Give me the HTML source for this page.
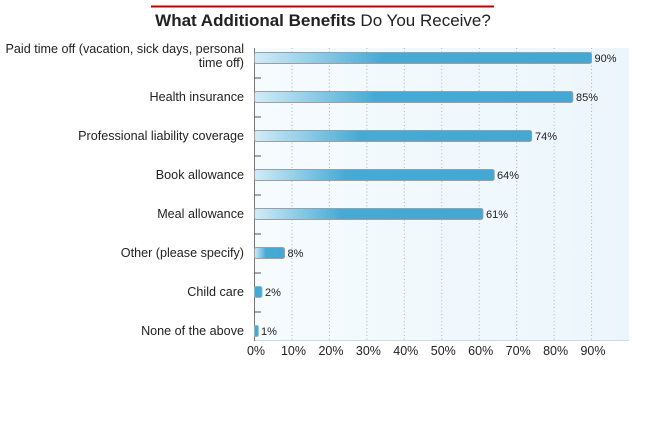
<!DOCTYPE html>
<html><head><meta charset="utf-8"><style>
html,body{margin:0;padding:0;background:#fff;}
svg{display:block;font-family:"Liberation Sans",sans-serif;}
</style></head><body>
<svg width="645" height="439" viewBox="0 0 645 439" xmlns="http://www.w3.org/2000/svg">
<defs>
<linearGradient id="bg" x1="0" y1="0" x2="1" y2="0">
<stop offset="0" stop-color="#f6fbfe"/><stop offset="1" stop-color="#ebf6fc"/>
</linearGradient>
<linearGradient id="bar" x1="0" y1="0" x2="1" y2="0">
<stop offset="0" stop-color="#d2ecf7"/><stop offset="0.38" stop-color="#46aad6"/><stop offset="1" stop-color="#44a8d5"/>
</linearGradient>
</defs>
<rect x="151" y="5.5" width="343" height="2" fill="#c00000"/>
<text x="323" y="26" text-anchor="middle" font-size="17" fill="#222"><tspan font-weight="bold">What Additional Benefits</tspan> Do You Receive?</text>

<rect x="254" y="48" width="375" height="292" fill="url(#bg)"/>
<g stroke="#aab4ba" stroke-width="1" stroke-dasharray="1,2.5">
<line x1="291.95" y1="48" x2="291.95" y2="340"/>
<line x1="329.4" y1="48" x2="329.4" y2="340"/>
<line x1="366.85" y1="48" x2="366.85" y2="340"/>
<line x1="404.3" y1="48" x2="404.3" y2="340"/>
<line x1="441.75" y1="48" x2="441.75" y2="340"/>
<line x1="479.2" y1="48" x2="479.2" y2="340"/>
<line x1="516.65" y1="48" x2="516.65" y2="340"/>
<line x1="554.1" y1="48" x2="554.1" y2="340"/>
<line x1="591.55" y1="48" x2="591.55" y2="340"/>
</g>
<line x1="254" y1="340.5" x2="629" y2="340.5" stroke="#c9dce6" stroke-width="1"/>
<line x1="254.5" y1="48" x2="254.5" y2="341" stroke="#777" stroke-width="1"/>
<g stroke="#555" stroke-width="1">
<line x1="254" y1="78" x2="261" y2="78"/>
<line x1="254" y1="117" x2="261" y2="117"/>
<line x1="254" y1="156" x2="261" y2="156"/>
<line x1="254" y1="195" x2="261" y2="195"/>
<line x1="254" y1="234" x2="261" y2="234"/>
<line x1="254" y1="273" x2="261" y2="273"/>
<line x1="254" y1="312" x2="261" y2="312"/>
</g>

<g stroke="#9a9fa3" stroke-width="1" fill="url(#bar)">
<rect x="254.5" y="52.5" width="337" height="11" rx="2"/>
<rect x="254.5" y="91.5" width="318.3" height="11" rx="2"/>
<rect x="254.5" y="130.5" width="277.1" height="11" rx="2"/>
<rect x="254.5" y="169.5" width="239.7" height="11" rx="2"/>
<rect x="254.5" y="208.5" width="228.4" height="11" rx="2"/>
<rect x="254.5" y="247.5" width="30" height="11" rx="2"/>
</g>
<g stroke="#8fb8cc" stroke-width="1" fill="#44a8d5">
<rect x="254.5" y="286.5" width="7.5" height="11" rx="2"/>
<rect x="254.5" y="325.5" width="3.8" height="11" rx="1.5"/>
</g>

<g font-size="11" fill="#222">
<text x="594.5" y="62">90%</text>
<text x="576" y="101">85%</text>
<text x="535" y="140">74%</text>
<text x="497" y="179">64%</text>
<text x="486" y="218">61%</text>
<text x="287.5" y="257">8%</text>
<text x="265" y="296">2%</text>
<text x="261" y="335">1%</text>
</g>

<g font-size="12.6" fill="#222" text-anchor="end">
<text x="244" y="53">Paid time off (vacation, sick days, personal</text>
<text x="244" y="67">time off)</text>
<text x="244" y="101">Health insurance</text>
<text x="244" y="140">Professional liability coverage</text>
<text x="244" y="179">Book allowance</text>
<text x="244" y="218">Meal allowance</text>
<text x="244" y="257">Other (please specify)</text>
<text x="244" y="296">Child care</text>
<text x="244" y="335">None of the above</text>
</g>

<g font-size="12.5" fill="#222" text-anchor="middle">
<text x="256" y="355">0%</text>
<text x="293.5" y="355">10%</text>
<text x="331" y="355">20%</text>
<text x="368.4" y="355">30%</text>
<text x="405.8" y="355">40%</text>
<text x="443.3" y="355">50%</text>
<text x="480.7" y="355">60%</text>
<text x="518.2" y="355">70%</text>
<text x="555.6" y="355">80%</text>
<text x="593" y="355">90%</text>
</g>
</svg>
</body></html>
